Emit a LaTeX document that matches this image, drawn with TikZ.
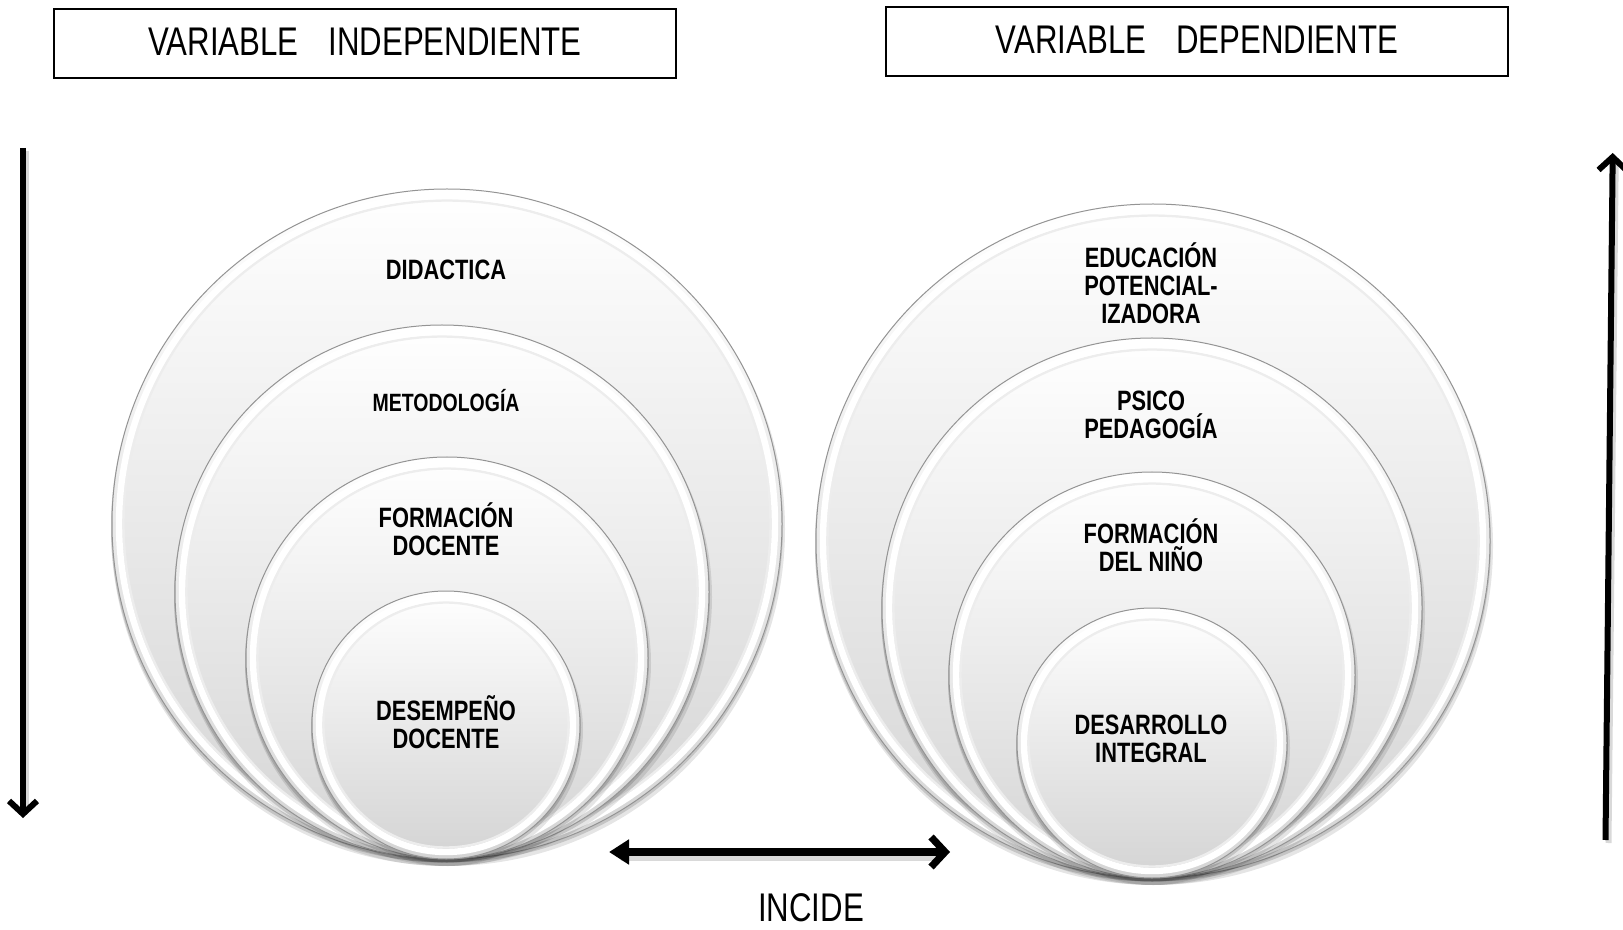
\documentclass[tikz,border=0pt]{standalone}
\usepackage{fontspec}
\setmainfont{Liberation Sans}
\newfontfamily\narrowfont[FakeStretch=0.78]{Liberation Sans}
\usetikzlibrary{arrows.meta,calc}

\newcommand\bubble[4]{% name, cx, bottom, r (px)
  \coordinate (#1) at (#2,{#3-#4});
  \fill[black,opacity=0.10] ($(#1)+(1,5)$) circle[radius={(#4+2)*0.5pt}];
  \fill[black,opacity=0.14] ($(#1)+(0,2.5)$) circle[radius={(#4+1)*0.5pt}];
  \shade[top color=white, middle color=black!4, bottom color=black!17, draw=black!42, line width=0.5pt]
    (#1) circle[radius={#4*0.5pt}];
  \draw[black!7, line width=1.2pt] (#1) circle[radius={(#4-11.5)*0.5pt}];
  \draw[white, line width=3.2pt] (#1) circle[radius={(#4-7)*0.5pt}];
}

\tikzset{
  title/.style={font=\narrowfont\fontsize{20}{23}\selectfont, inner sep=0},
  titlebox/.style={draw=black, line width=0.8pt},
  lbl/.style={font=\narrowfont\bfseries\fontsize{14}{14}\selectfont, align=center, inner sep=0},
  lblsmall/.style={font=\narrowfont\bfseries\fontsize{12.5}{14}\selectfont, align=center, inner sep=0},
  varrow/.style={line width=3pt, -{Straight Barb[length=6.5pt,width=14pt]}},
  harrow/.style={line width=3.6pt, {Triangle[length=10pt,width=12pt]}-{Straight Barb[length=7pt,width=15pt]}},
  ashadow/.style={black, opacity=0.15},
}

\begin{document}
\begin{tikzpicture}[x=0.5pt,y=-0.5pt]
\useasboundingbox (0,0) rectangle (1623,930);
\fill[white] (0,0) rectangle (1623,930);

% title boxes
\draw[titlebox] (54,9) rectangle (676,78);
\node[title] (vi) at (365,42) {VARIABLE\hspace{15pt}INDEPENDIENTE};
\draw[titlebox] (886,7) rectangle (1508,76);
\node[title] (vd) at (1197,40) {VARIABLE\hspace{15pt}DEPENDIENTE};

% left nested circles
\bubble{L1}{447}{859}{335}
\bubble{L2}{442}{859}{267}
\bubble{L3}{447}{859}{201}
\bubble{L4}{446}{859}{134}

% right nested circles
\bubble{R1}{1153}{878}{337}
\bubble{R2}{1152}{878}{270}
\bubble{R3}{1152}{878}{203}
\bubble{R4}{1152}{878}{135}

% labels left
\node[lbl] (didactica) at (446,270) {DIDACTICA};
\node[lblsmall] (metodologia) at (446,401) {METODOLOGÍA};
\node[lbl] (formdoc) at (446,529) {FORMACIÓN\\DOCENTE};
\node[lbl] (desempeno) at (446,722) {DESEMPEÑO\\DOCENTE};

% labels right
\node[lbl] (educacion) at (1151,283) {EDUCACIÓN\\POTENCIAL-\\IZADORA};
\node[lbl] (psico) at (1151,415) {PSICO\\PEDAGOGÍA};
\node[lbl] (formnino) at (1151,545) {FORMACIÓN\\DEL NIÑO};
\node[lbl] (desarrollo) at (1151,739) {DESARROLLO\\INTEGRAL};

% arrows
\coordinate (va1) at (23,148);
\coordinate (va2) at (23,818);
\coordinate (vb1) at (1605.5,840);
\coordinate (vb2) at (1612.7,153);
\coordinate (ha1) at (609,852);
\coordinate (ha2) at (950,852);

\draw[ashadow, line width=3pt] ($(va1)+(3,3)$) -- ($(va2)+(3,-8)$);
\draw[ashadow, line width=3pt] ($(vb1)+(3,3)$) -- ($(vb2)+(3,8)$);
\draw[ashadow, line width=3.6pt] ($(ha1)+(12,5)$) -- ($(ha2)+(-10,5)$);

\draw[varrow] (va1) -- (va2);
\draw[varrow] (vb1) -- (vb2);
\draw[harrow] (ha1) -- (ha2);

\node[title] (incide) at (811,908) {INCIDE};
\end{tikzpicture}
\end{document}
